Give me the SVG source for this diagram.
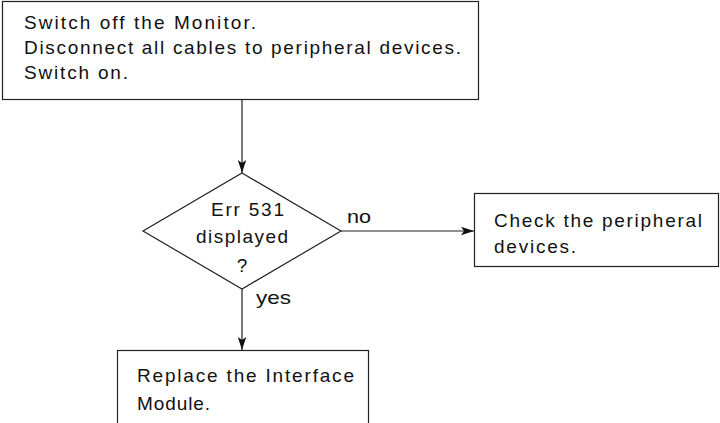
<svg xmlns="http://www.w3.org/2000/svg" width="720" height="423" viewBox="0 0 720 423">
<style>
.box{fill:#fff;stroke:#222;stroke-width:1.2}
.t{font-family:"Liberation Sans",Arial,sans-serif;font-size:19px;fill:#111}
.c{stroke:#222;stroke-width:1.2;fill:none}
</style>
<defs>
<marker id="ah" markerWidth="14" markerHeight="10" refX="13" refY="5" orient="auto" markerUnits="userSpaceOnUse">
<path d="M0,0.8 L13,5 L0,9.2 L3,5 Z" fill="#111"/>
</marker>
</defs>
<rect width="720" height="423" fill="#fff"/>
<g id="connectors">
<line class="c" x1="242" y1="99" x2="242" y2="173" marker-end="url(#ah)"/>
<line class="c" x1="341" y1="231" x2="474" y2="231" marker-end="url(#ah)"/>
<line class="c" x1="242" y1="289" x2="242" y2="350" marker-end="url(#ah)"/>
<text class="t" x="347" y="223" textLength="24" lengthAdjust="spacingAndGlyphs">no</text>
<text class="t" x="256" y="304" textLength="35" lengthAdjust="spacingAndGlyphs">yes</text>
</g>
<g id="start">
<rect class="box" x="2.5" y="1.5" width="476" height="98"/>
<text class="t" x="24" y="29" textLength="232" lengthAdjust="spacing">Switch off the Monitor.</text>
<text class="t" x="24" y="54" textLength="437" lengthAdjust="spacing">Disconnect all cables to peripheral devices.</text>
<text class="t" x="24" y="79" textLength="104" lengthAdjust="spacing">Switch on.</text>
</g>
<g id="decision">
<polygon class="box" points="242,173 341,231 242,289 143,231"/>
<text class="t" x="211" y="216" textLength="73" lengthAdjust="spacing">Err 531</text>
<text class="t" x="196" y="243" textLength="92" lengthAdjust="spacing">displayed</text>
<text class="t" x="242" y="272" text-anchor="middle">?</text>
</g>
<g id="check">
<rect class="box" x="474.5" y="193.5" width="244" height="73"/>
<text class="t" x="494" y="227" textLength="208" lengthAdjust="spacing">Check the peripheral</text>
<text class="t" x="494" y="253" textLength="82" lengthAdjust="spacing">devices.</text>
</g>
<g id="replace">
<rect class="box" x="117.5" y="350.5" width="251" height="80"/>
<text class="t" x="137" y="382" textLength="217" lengthAdjust="spacing">Replace the Interface</text>
<text class="t" x="137" y="410" textLength="73" lengthAdjust="spacing">Module.</text>
</g>
</svg>
